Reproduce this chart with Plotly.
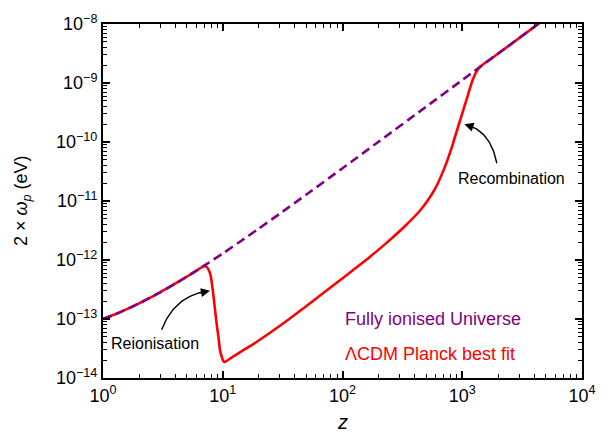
import numpy as np
import plotly.graph_objects as go

# ---------------- data ----------------
z_full = [1, 1.25, 1.5, 2, 3, 4, 5, 7, 10, 14, 20, 30, 50, 100, 200, 500, 1000, 2000, 5000]
wp_full = [1.0e-13, 1.19e-13, 1.40e-13, 1.84e-13, 2.83e-13, 3.96e-13, 5.2e-13, 8.0e-13,
           1.29e-12, 2.06e-12, 3.41e-12, 6.11e-12, 1.29e-11, 3.59e-11, 1.01e-10, 3.97e-10,
           1.12e-9, 3.17e-9, 1.25e-8]

z_lcdm = [1, 1.25, 1.5, 2, 3, 4, 5, 6, 6.6, 7.0, 7.3, 7.6, 7.94, 8.3, 8.6, 8.91, 9.2, 9.5,
          9.8, 10.1, 10.4, 12, 14, 18, 25, 34.3, 47, 65, 90, 123.4, 170, 234.5, 330,
          444.6, 520, 600, 719, 819, 901, 993, 1092, 1203, 1300, 1400, 2000, 5000]
wp_lcdm = [1.0e-13, 1.19e-13, 1.40e-13, 1.84e-13, 2.83e-13, 3.96e-13, 5.2e-13, 6.56e-13,
           7.4e-13, 7.9e-13, 7.7e-13, 6.9e-13, 5.33e-13, 2.80e-13, 1.5e-13, 8.0e-14,
           5.0e-14, 2.89e-14, 2.3e-14, 1.95e-14, 1.87e-14, 2.25e-14, 2.75e-14, 3.75e-14,
           5.9e-14, 9.33e-14, 1.51e-13, 2.50e-13, 4.15e-13, 6.83e-13, 1.14e-12, 1.97e-12,
           3.70e-12, 6.9e-12, 1.05e-11, 1.68e-11, 3.86e-11, 8.2e-11, 1.55e-10, 2.90e-10,
           5.46e-10, 1.03e-9, 1.5e-9, 1.86e-9, 3.17e-9, 1.25e-8]

x_ticks = [1, 10, 100, 1000, 10000]
x_ticktext = ["10<sup>0</sup>", "10<sup>1</sup>", "10<sup>2</sup>", "10<sup>3</sup>", "10<sup>4</sup>"]
y_ticks = [1e-14, 1e-13, 1e-12, 1e-11, 1e-10, 1e-9, 1e-8]
y_ticktext = ["10<sup>\u221214</sup>", "10<sup>\u221213</sup>", "10<sup>\u221212</sup>",
              "10<sup>\u221211</sup>", "10<sup>\u221210</sup>", "10<sup>\u22129</sup>",
              "10<sup>\u22128</sup>"]

label_full = "Fully ionised Universe"
label_lcdm = "\u039bCDM Planck best fit"

# annotation arrows: (tail, control, head) in data coordinates
arrow_reion = [(3.09, 6.6e-14), (4.0, 2.6e-13), (7.83, 3.0e-13)]
arrow_recomb = [(1945, 4.37e-11), (1710, 1.62e-10), (1043, 1.99e-10)]
text_reion = ("Reionisation", 2.72, 3.9e-14)
text_recomb = ("Recombination", 2595, 2.44e-11)

RED = "#ff0000"
PURPLE = "#800080"
FONT = "Liberation Sans, Arial, Helvetica, sans-serif"

fig = go.Figure()
fig.add_trace(go.Scatter(x=z_lcdm, y=wp_lcdm, mode="lines",
                         line=dict(color=RED, width=2.6, shape="spline", smoothing=0.6),
                         showlegend=False, hoverinfo="skip"))
fig.add_trace(go.Scatter(x=z_full, y=wp_full, mode="lines",
                         line=dict(color=PURPLE, width=2.6, dash="9px,5px",
                                   shape="spline", smoothing=0.6),
                         showlegend=False, hoverinfo="skip"))


def bezier(pts, n=40):
    p = np.log10(np.array(pts, dtype=float))
    t = np.linspace(0, 1, n)[:, None]
    b = (1 - t) ** 2 * p[0] + 2 * (1 - t) * t * p[1] + t ** 2 * p[2]
    return 10 ** b[:, 0], 10 ** b[:, 1], p


annotations = []
for pts in (arrow_reion, arrow_recomb):
    bx, by, p = bezier(pts)
    fig.add_trace(go.Scatter(x=bx[:-3], y=by[:-3], mode="lines",
                             line=dict(color="black", width=1.4),
                             showlegend=False, hoverinfo="skip"))
    t0 = 0.82
    tail = (1 - t0) ** 2 * p[0] + 2 * (1 - t0) * t0 * p[1] + t0 ** 2 * p[2]
    annotations.append(dict(x=p[2][0], y=p[2][1], xref="x", yref="y",
                            ax=tail[0], ay=tail[1], axref="x", ayref="y",
                            text="", showarrow=True, arrowhead=2, arrowsize=1.3,
                            arrowwidth=1.4, arrowcolor="black"))

for txt, tx, ty in (text_reion, text_recomb):
    annotations.append(dict(x=np.log10(tx), y=np.log10(ty), xref="x", yref="y",
                            text=txt, showarrow=False,
                            font=dict(size=16, color="black", family=FONT)))

annotations.append(dict(x=0.5017, y=0.167, xref="paper", yref="paper", xanchor="left",
                        yanchor="middle", text=label_full, showarrow=False,
                        font=dict(size=18, color=PURPLE, family=FONT)))
annotations.append(dict(x=0.5017, y=0.0685, xref="paper", yref="paper", xanchor="left",
                        yanchor="middle", text=label_lcdm, showarrow=False,
                        font=dict(size=18, color=RED, family=FONT)))
annotations.append(dict(x=0, y=0.5, xref="paper", yref="paper", xshift=-81,
                        xanchor="center", yanchor="middle", textangle=-90,
                        text="2 \u00d7 <i>\u03c9</i><sub><i>p</i></sub> (eV)",
                        showarrow=False, font=dict(size=18, color="black", family=FONT)))
annotations.append(dict(x=0.5, y=0, xref="paper", yref="paper", yshift=-44,
                        xanchor="center", yanchor="middle", text="<i>z</i>",
                        showarrow=False, font=dict(size=20, color="black", family=FONT)))

x_minor = [m * 10 ** k for k in range(0, 4) for m in range(2, 10)]
y_minor = [m * 10.0 ** k for k in range(-14, -8) for m in range(2, 10)]

axis_common = dict(showline=True, linecolor="black", linewidth=2, mirror="allticks",
                   ticks="inside", ticklen=7, tickwidth=1.5, tickcolor="black",
                   showgrid=False, zeroline=False,
                   tickfont=dict(size=18, color="black", family=FONT))

fig.update_xaxes(type="log", range=[0, 4], tickmode="array", tickvals=x_ticks,
                 ticktext=x_ticktext,
                 minor=dict(ticks="inside", ticklen=4, tickwidth=1, tickcolor="black",
                            tickmode="array", tickvals=x_minor, showgrid=False),
                 **axis_common)
fig.update_yaxes(type="log", range=[-14, -8], tickmode="array", tickvals=y_ticks,
                 ticktext=y_ticktext,
                 minor=dict(ticks="inside", ticklen=4, tickwidth=1, tickcolor="black",
                            tickmode="array", tickvals=y_minor, showgrid=False),
                 **axis_common)

fig.update_layout(width=613, height=436, margin=dict(l=103, r=31, t=13, b=58),
                  plot_bgcolor="white", paper_bgcolor="white",
                  font=dict(family=FONT, color="black"),
                  annotations=annotations, showlegend=False)

fig.write_html("out.html")
